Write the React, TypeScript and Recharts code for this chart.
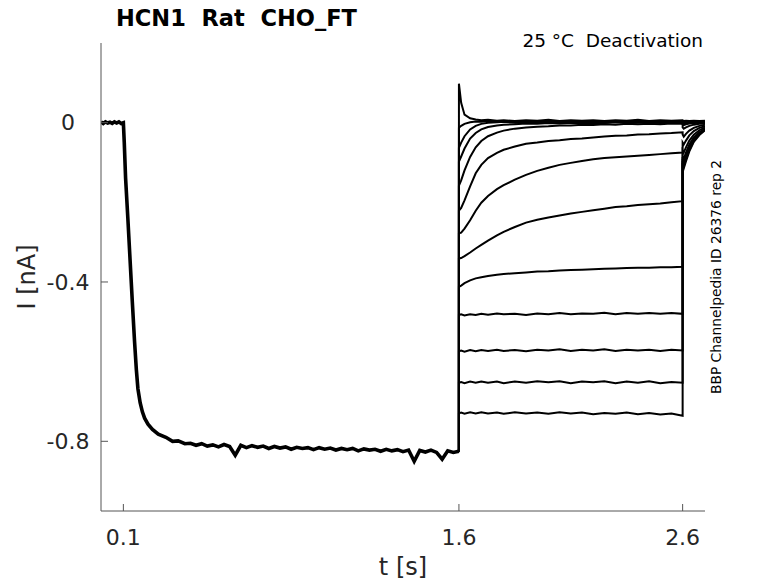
import React from 'react';
import { LineChart, Line, XAxis, YAxis } from 'recharts';

// holding + activation step (shared by all sweeps)
const actT = [
  0, 0.01, 0.02, 0.03, 0.04, 0.05, 0.06, 0.07, 0.08, 0.09, 0.1,
  0.104, 0.11, 0.12, 0.13, 0.14, 0.15, 0.158, 0.165, 0.175, 0.185, 0.195,
  0.21, 0.23, 0.256, 0.29, 0.32, 0.345, 0.375,
  0.4, 0.425, 0.45, 0.475, 0.5, 0.525, 0.55, 0.575, 0.6, 0.625, 0.65, 0.675,
  0.7, 0.725, 0.75, 0.775, 0.8, 0.825, 0.85, 0.875, 0.9, 0.925, 0.95, 0.975,
  1.0, 1.025, 1.05, 1.075, 1.1, 1.125, 1.15, 1.175, 1.2, 1.225, 1.25, 1.275,
  1.3, 1.325, 1.35, 1.375, 1.4, 1.425, 1.45, 1.475, 1.5, 1.525, 1.55, 1.575, 1.6,
];
const actI = [
  0.002, -0.002, 0.002, -0.001, 0.001, -0.002, 0.002, -0.001, 0.002, -0.002, 0.0,
  -0.05, -0.14, -0.24, -0.345, -0.45, -0.55, -0.62, -0.668, -0.703, -0.726, -0.742,
  -0.757, -0.77, -0.782, -0.79, -0.8, -0.799, -0.806,
  -0.805, -0.81, -0.806, -0.812, -0.809, -0.814, -0.808, -0.813, -0.835, -0.81, -0.816, -0.811,
  -0.815, -0.812, -0.818, -0.813, -0.817, -0.814, -0.82, -0.815, -0.818, -0.816, -0.821, -0.816,
  -0.82, -0.817, -0.822, -0.818, -0.821, -0.818, -0.824, -0.819, -0.822, -0.82, -0.825, -0.82,
  -0.824, -0.821, -0.826, -0.822, -0.85, -0.823, -0.827, -0.822, -0.828, -0.845, -0.824, -0.828, -0.825,
];

// test pulse 1.6 - 2.6 s
const tailT = [
  1.6, 1.61, 1.625, 1.65, 1.675, 1.7, 1.73, 1.77, 1.8, 1.85, 1.9, 1.95, 2.0,
  2.05, 2.1, 2.15, 2.2, 2.25, 2.3, 2.35, 2.4, 2.45, 2.5, 2.55, 2.6,
];
// back to holding 2.6 - 2.7 s
const retT = [2.6, 2.605, 2.615, 2.63, 2.65, 2.675, 2.7];

const tail01 = [0.098, 0.05, 0.02, 0.011, 0.008, 0.006, 0.007, 0.005, 0.006, 0.004, 0.006, 0.005, 0.007, 0.004, 0.006, 0.005, 0.006, 0.004, 0.006, 0.005, 0.007, 0.004, 0.006, 0.005, 0.006];
const tail02 = [-0.013, -0.008, -0.003, 0.001, 0.003, 0.002, 0.004, 0.002, 0.003, 0.001, 0.003, 0.002, 0.004, 0.001, 0.003, 0.002, 0.003, 0.001, 0.004, 0.002, 0.003, 0.001, 0.003, 0.002, 0.003];
const tail03 = [-0.063, -0.05, -0.034, -0.017, -0.008, -0.003, 0.0, 0.001, 0.002, 0.0, 0.002, 0.001, 0.002, 0.0, 0.002, 0.001, 0.002, 0.0, 0.002, 0.001, 0.002, 0.0, 0.001, 0.002, 0.001];
const tail04 = [-0.098, -0.085, -0.065, -0.04, -0.026, -0.017, -0.011, -0.007, -0.005, -0.004, -0.002, -0.003, -0.001, -0.002, 0.0, -0.001, 0.0, -0.001, 0.001, -0.001, 0.0, 0.001, -0.001, 0.0, 0.0];
const tail05 = [-0.158, -0.145, -0.12, -0.086, -0.062, -0.046, -0.034, -0.025, -0.02, -0.015, -0.012, -0.01, -0.009, -0.007, -0.007, -0.005, -0.006, -0.004, -0.005, -0.003, -0.004, -0.003, -0.004, -0.002, -0.003];
const tail06 = [-0.221, -0.214, -0.195, -0.16, -0.127, -0.106, -0.089, -0.076, -0.068, -0.06, -0.053, -0.05, -0.046, -0.044, -0.041, -0.04, -0.037, -0.035, -0.033, -0.032, -0.03, -0.029, -0.027, -0.026, -0.024];
const tail07 = [-0.278, -0.276, -0.266, -0.245, -0.221, -0.201, -0.184, -0.167, -0.157, -0.143, -0.131, -0.121, -0.113, -0.106, -0.101, -0.096, -0.092, -0.089, -0.087, -0.085, -0.083, -0.081, -0.079, -0.077, -0.075];
const tail08 = [-0.341, -0.34, -0.335, -0.326, -0.316, -0.307, -0.296, -0.283, -0.274, -0.262, -0.251, -0.244, -0.238, -0.233, -0.228, -0.224, -0.22, -0.216, -0.212, -0.21, -0.207, -0.205, -0.203, -0.2, -0.197];
const tail09 = [-0.412, -0.409, -0.403, -0.396, -0.391, -0.388, -0.385, -0.382, -0.38, -0.378, -0.376, -0.374, -0.373, -0.371, -0.37, -0.369, -0.368, -0.367, -0.366, -0.365, -0.364, -0.364, -0.363, -0.363, -0.362];
const tail10 = [-0.483, -0.481, -0.484, -0.481, -0.483, -0.48, -0.482, -0.479, -0.481, -0.48, -0.483, -0.479, -0.481, -0.478, -0.481, -0.479, -0.48, -0.477, -0.481, -0.478, -0.48, -0.478, -0.48, -0.478, -0.48];
const tail11 = [-0.574, -0.572, -0.575, -0.571, -0.574, -0.571, -0.573, -0.57, -0.573, -0.571, -0.574, -0.57, -0.572, -0.569, -0.573, -0.57, -0.572, -0.569, -0.573, -0.57, -0.572, -0.57, -0.573, -0.57, -0.572];
const tail12 = [-0.653, -0.651, -0.654, -0.65, -0.653, -0.65, -0.653, -0.65, -0.654, -0.65, -0.653, -0.649, -0.652, -0.649, -0.654, -0.65, -0.652, -0.649, -0.654, -0.65, -0.653, -0.649, -0.654, -0.651, -0.653];
const tail13 = [-0.73, -0.728, -0.731, -0.727, -0.73, -0.727, -0.73, -0.728, -0.731, -0.727, -0.73, -0.728, -0.731, -0.727, -0.73, -0.728, -0.732, -0.729, -0.731, -0.728, -0.732, -0.729, -0.733, -0.73, -0.736];

const ret01 = [0.006, 0.004, 0.005, 0.004, 0.005, 0.004, 0.005];
const ret02 = [0.002, 0.001, 0.002, 0.001, 0.002, 0.001, 0.002];
const ret03 = [0.0, -0.002, -0.001, 0.0, 0.001, 0.0, 0.001];
const ret04 = [-0.004, -0.006, -0.004, -0.002, -0.001, 0.0, 0.0];
const ret05 = [-0.012, -0.015, -0.012, -0.008, -0.005, -0.003, -0.002];
const ret06 = [-0.03, -0.035, -0.028, -0.02, -0.013, -0.008, -0.005];
const ret07 = [-0.05, -0.055, -0.045, -0.032, -0.021, -0.013, -0.009];
const ret08 = [-0.07, -0.075, -0.062, -0.045, -0.03, -0.019, -0.012];
const ret09 = [-0.085, -0.09, -0.075, -0.055, -0.037, -0.024, -0.015];
const ret10 = [-0.095, -0.1, -0.083, -0.061, -0.041, -0.026, -0.016];
const ret11 = [-0.1, -0.105, -0.088, -0.065, -0.044, -0.028, -0.017];
const ret12 = [-0.105, -0.11, -0.092, -0.068, -0.046, -0.029, -0.018];
const ret13 = [-0.11, -0.115, -0.097, -0.072, -0.048, -0.031, -0.019];

const tails = [tail01, tail02, tail03, tail04, tail05, tail06, tail07, tail08, tail09, tail10, tail11, tail12, tail13];
const rets = [ret01, ret02, ret03, ret04, ret05, ret06, ret07, ret08, ret09, ret10, ret11, ret12, ret13];

const xTicks = [0.1, 1.6, 2.6];
const yTicks = [-0.8, -0.4, 0];

type Pt = { t: number; i: number };

const activation: Pt[] = actT.map((t, k) => ({ t, i: actI[k] }));

function sweep(tail: number[], ret: number[]): Pt[] {
  const pre = actI[actI.length - 1];
  return [
    { t: 1.6, i: pre },
    ...tailT.map((t, k) => ({ t, i: tail[k] })),
    ...retT.map((t, k) => ({ t, i: ret[k] })),
  ];
}

const FONT = 'DejaVu Sans';
const INK = '#262626';

const YTick = (props: any) => {
  const { x, y, payload } = props;
  return (
    <text x={x} y={y} dy="0.35em" textAnchor="middle" fontSize={22} fill={INK} fontFamily={FONT}>
      {payload.value}
    </text>
  );
};

const XTick = (props: any) => {
  const { x, y, payload } = props;
  return (
    <text x={x} y={y} dy="0.71em" textAnchor="middle" fontSize={22} fill={INK} fontFamily={FONT}>
      {payload.value}
    </text>
  );
};

export default function App() {
  return (
    <div style={{ position: 'absolute', left: 0, top: 0, width: 778, height: 583, background: '#fff' }}>
      <LineChart width={778} height={583} margin={{ top: 43, right: 73, bottom: 32, left: 41 }}>
        <XAxis
          type="number"
          dataKey="t"
          domain={[0, 2.7]}
          ticks={xTicks}
          interval={0}
          height={40}
          tickSize={-7}
          tickMargin={25}
          stroke="#555"
          tick={<XTick />}
          allowDataOverflow
        />
        <YAxis
          type="number"
          domain={[-0.975, 0.2]}
          ticks={yTicks}
          interval={0}
          width={60}
          tickSize={-7}
          tickMargin={40}
          stroke="#555"
          tick={<YTick />}
          allowDataOverflow
        />
        <Line
          data={activation}
          dataKey="i"
          type="linear"
          stroke="#000"
          strokeWidth={3.6}
          dot={false}
          activeDot={false}
          isAnimationActive={false}
        />
        {tails.map((tail, k) => (
          <Line
            key={k}
            data={sweep(tail, rets[k])}
            dataKey="i"
            type="linear"
            stroke="#000"
            strokeWidth={2}
            dot={false}
            activeDot={false}
            isAnimationActive={false}
          />
        ))}
      </LineChart>
      <svg
        width={778}
        height={583}
        style={{ position: 'absolute', left: 0, top: 0, pointerEvents: 'none' }}
      >
        <text x={116} y={26} fontSize={22.5} fontWeight="bold" fill="#000" fontFamily={FONT} style={{ whiteSpace: 'pre' }}>
          HCN1  Rat  CHO_FT
        </text>
        <text x={703} y={47} textAnchor="end" fontSize={18.5} fill="#000" fontFamily={FONT} style={{ whiteSpace: 'pre' }}>
          25 °C  Deactivation
        </text>
        <text x={721} y={277} transform="rotate(-90 721 277)" textAnchor="middle" fontSize={13.8} fill="#000" fontFamily={FONT}>
          BBP Channelpedia ID 26376 rep 2
        </text>
        <text x={403} y={575} textAnchor="middle" fontSize={24} fill={INK} fontFamily={FONT}>
          t [s]
        </text>
        <text x={35} y={277} transform="rotate(-90 35 277)" textAnchor="middle" fontSize={24} fill={INK} fontFamily={FONT}>
          I [nA]
        </text>
      </svg>
    </div>
  );
}
